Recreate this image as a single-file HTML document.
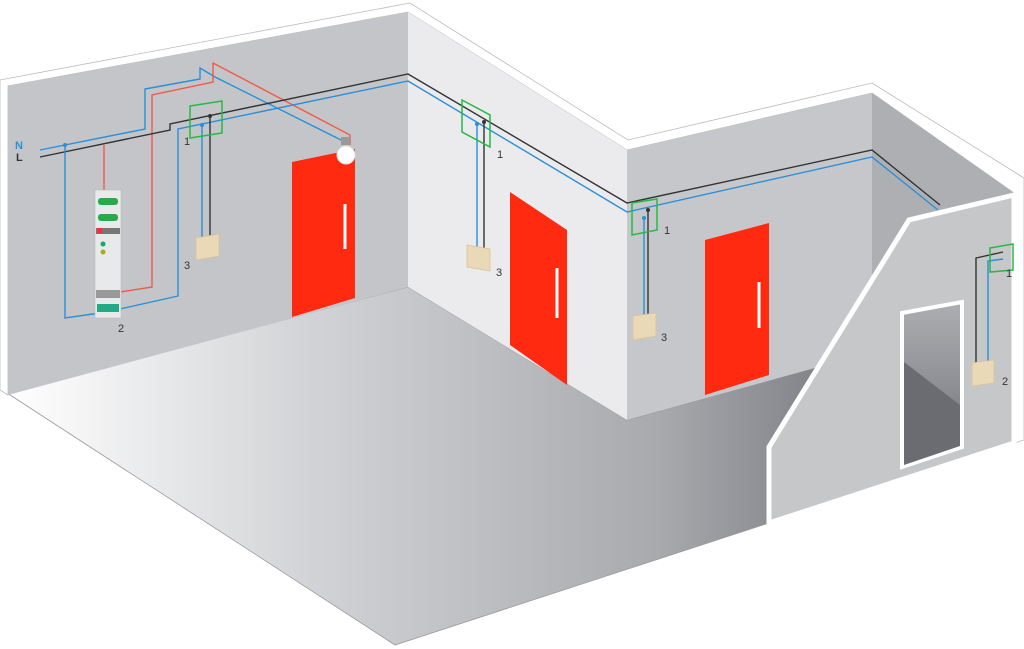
<!DOCTYPE html>
<html><head><meta charset="utf-8"><style>
html,body{margin:0;padding:0;background:#fff;}
svg{display:block;}
text{font-family:"Liberation Sans",sans-serif;font-size:11px;fill:#333;}
</style></head><body>
<svg width="1024" height="649" viewBox="0 0 1024 649" xmlns="http://www.w3.org/2000/svg">
<defs>
<linearGradient id="fl" x1="0" y1="0" x2="1" y2="0">
<stop offset="0" stop-color="#ffffff"/><stop offset="0.35" stop-color="#d2d3d6"/><stop offset="0.75" stop-color="#a9aaae"/><stop offset="1" stop-color="#75777c"/>
</linearGradient>
<linearGradient id="dr" x1="0" y1="0" x2="0" y2="1">
<stop offset="0" stop-color="#adaeb1"/><stop offset="0.5" stop-color="#8e9095"/><stop offset="1" stop-color="#65676d"/>
</linearGradient>
</defs>
<!-- floor -->
<polygon points="7,393 408,287 627,420 872,352 769,523 395,645" fill="url(#fl)" stroke="#999" stroke-width="0.8"/>
<!-- wall caps -->
<polygon points="0,80 410,3 628,140 872,83 1024,178 1024,440 1014,443 1014,193 872,93 627,150 408,12 8,86 8,395 0,390" fill="#fff" stroke="#bbb" stroke-width="0.8"/>
<!-- left wall -->
<polygon points="8,86 408,12 408,287 8,395" fill="#c4c5c8"/>
<!-- middle wall -->
<polygon points="408,12 627,150 627,420 408,287" fill="#ebebed"/>
<!-- back wall -->
<polygon points="627,150 872,93 872,352 627,420" fill="#c6c7ca"/>
<!-- right wall -->
<polygon points="872,93 1014,193 1014,443 872,352" fill="#aeafb2"/>
<!-- partition -->
<polygon points="769,523 769,447 909,220 1014,195 1014,443" fill="#c6c7c9" stroke="#fff" stroke-width="5"/>
<!-- doorway -->
<polygon points="902,313 962,302 962,447 902,467" fill="url(#dr)" stroke="#fff" stroke-width="4"/>
<polygon points="904,362 960,405 960,446 904,465" fill="#6a6c72"/>
<!-- doors -->
<polygon points="292,162 355,149 355,298 292,317" fill="#ff2a10"/>
<rect x="343.5" y="204" width="3" height="45" fill="#fff"/>
<polygon points="510,192 567,230 567,385 510,345" fill="#ff2a10"/>
<rect x="555.5" y="268" width="3" height="50" fill="#fff"/>
<polygon points="705,240 769,223 769,375 705,395" fill="#ff2a10"/>
<rect x="757.5" y="282" width="3" height="46" fill="#fff"/>
<!-- wires -->
<g fill="none" stroke-width="1.4">
<polyline points="40,150 145,129 145,89 200,79 200,68 215,77 345,142" stroke="#2a8fd8"/>
<polyline points="104,145 104,193" stroke="#f05a4a"/>
<polyline points="120,292 152,287 152,95 213,82 213,63 350,135 350,145" stroke="#f05a4a"/>
<polyline points="40,157 170,130 170,124 408,74 627,203 872,150 940,205" stroke="#333"/>
<polyline points="65,145 65,318 100,313" stroke="#2a8fd8"/>
<polyline points="120,309 178,296 178,129 408,81 627,212 872,157 938,210" stroke="#2a8fd8"/>
<polyline points="202,125 202,240" stroke="#2a8fd8"/>
<polyline points="210,116 210,240" stroke="#333"/>
<polyline points="477,124 477,252" stroke="#2a8fd8"/>
<polyline points="484,122 484,252" stroke="#333"/>
<polyline points="644,218 644,318" stroke="#2a8fd8"/>
<polyline points="648,210 648,318" stroke="#333"/>
<polyline points="1003,252 976,258 976,365" stroke="#333"/>
<polyline points="1003,259 988,261 988,365" stroke="#2a8fd8"/>
</g>
<g fill="#333"><circle cx="65" cy="145" r="2" fill="#2a8fd8"/><circle cx="210" cy="116" r="2"/><circle cx="202" cy="125" r="2" fill="#2a8fd8"/><circle cx="484" cy="122" r="2"/><circle cx="477" cy="124" r="2" fill="#2a8fd8"/><circle cx="648" cy="210" r="2"/><circle cx="644" cy="218" r="2" fill="#2a8fd8"/></g>
<!-- bulb -->
<rect x="341" y="137" width="9" height="8" fill="#999"/>
<circle cx="346" cy="155" r="9" fill="#fff" stroke="#ddd"/>
<!-- device -->
<rect x="95" y="190" width="26" height="128" fill="#e8e9ea" stroke="#bbb" stroke-width="0.6"/>
<rect x="98" y="198" width="20" height="7" rx="3" fill="#2aa84a"/>
<rect x="98" y="214" width="20" height="7" rx="3" fill="#2aa84a"/>
<rect x="96" y="228" width="24" height="6" fill="#777"/>
<rect x="97" y="228" width="5" height="5" fill="#e33"/>
<circle cx="103" cy="244" r="2.5" fill="#1a6"/>
<circle cx="103" cy="252" r="2.5" fill="#aa2"/>
<rect x="96" y="290" width="24" height="8" fill="#999"/>
<rect x="97" y="304" width="22" height="8" fill="#2a8"/>
<!-- green boxes -->
<g fill="none" stroke="#22bb44" stroke-width="1.5">
<polygon points="190,106 222,101 222,133 190,138"/>
<polygon points="462,100 490,115 490,147 462,132"/>
<polygon points="632,203 657,199 657,230 632,235"/>
<polygon points="990,248 1013,244 1013,270 990,272"/>
</g>
<!-- switches -->
<g fill="#ead9b6" stroke="#d9c49a" stroke-width="0.8">
<polygon points="196,238 219,234 219,256 196,260"/>
<polygon points="467,245 490,249 490,271 467,267"/>
<polygon points="633,316 656,313 656,336 633,340"/>
<polygon points="972,363 994,360 994,383 972,386"/>
</g>
<!-- labels -->
<text x="15" y="149" style="fill:#2a8fd8;font-weight:bold">N</text>
<text x="16" y="161" style="font-weight:bold">L</text>
<text x="184" y="145">1</text>
<text x="184" y="269">3</text>
<text x="118" y="332">2</text>
<text x="497" y="158">1</text>
<text x="496" y="276">3</text>
<text x="664" y="234">1</text>
<text x="661" y="341">3</text>
<text x="1006" y="277">1</text>
<text x="1002" y="385">2</text>
</svg>
</body></html>
